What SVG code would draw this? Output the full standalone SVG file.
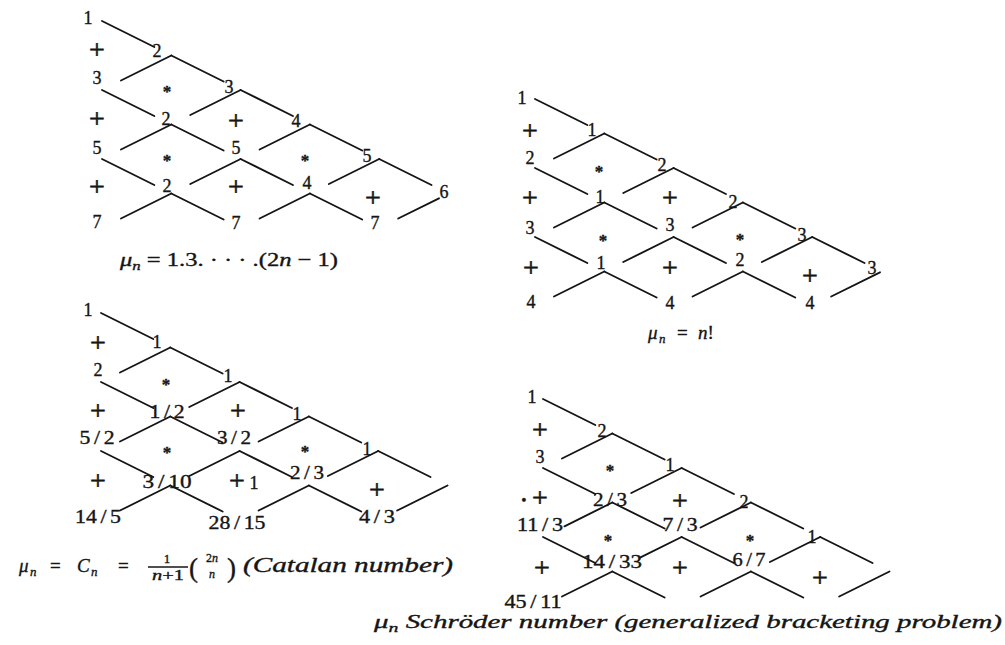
<svg xmlns="http://www.w3.org/2000/svg" width="1005" height="645" viewBox="0 0 1005 645">
<style>
text{font-family:"Liberation Serif","DejaVu Serif",serif;fill:#151515;stroke:#151515;stroke-width:0.35}
.d{font-size:18px;text-anchor:middle}
.p{font-size:28px;text-anchor:middle;stroke-width:0.6}
.s{font-size:17px;font-weight:bold;text-anchor:middle}
.f{font-size:19px}
.i{font-style:italic}
.sub{font-size:13px;font-style:italic}
#connectors line{stroke:#151515;stroke-width:1.9;stroke-linecap:round}
</style>
<rect width="1005" height="645" fill="#fff"/>
<g id="connectors">
<g id="conn-A" transform="translate(102,21)">
<line x1="0" y1="0" x2="52.3" y2="26"/><line x1="0" y1="69" x2="52.3" y2="95"/><line x1="0" y1="138" x2="52.3" y2="164"/>
<line x1="69.3" y1="34.5" x2="121.6" y2="60.5"/><line x1="69.3" y1="103.5" x2="121.6" y2="129.5"/><line x1="69.3" y1="172.5" x2="121.6" y2="198.5"/>
<line x1="138.6" y1="69" x2="190.9" y2="95"/><line x1="138.6" y1="138" x2="190.9" y2="164"/>
<line x1="207.9" y1="103.5" x2="260.2" y2="129.5"/><line x1="207.9" y1="172.5" x2="260.2" y2="198.5"/>
<line x1="277.2" y1="138" x2="329.5" y2="164"/>
<line x1="19" y1="59.5" x2="69.3" y2="34.5"/><line x1="19" y1="128.5" x2="69.3" y2="103.5"/><line x1="19" y1="197.5" x2="69.3" y2="172.5"/>
<line x1="88.3" y1="94" x2="138.6" y2="69"/><line x1="88.3" y1="163" x2="138.6" y2="138"/>
<line x1="157.6" y1="128.5" x2="207.9" y2="103.5"/><line x1="157.6" y1="197.5" x2="207.9" y2="172.5"/>
<line x1="226.9" y1="163" x2="277.2" y2="138"/><line x1="296.2" y1="197.5" x2="337" y2="177.3"/>
</g>
<g id="conn-B" transform="translate(535,99)">
<line x1="0" y1="0" x2="52.3" y2="26"/><line x1="0" y1="69" x2="52.3" y2="95"/><line x1="0" y1="138" x2="52.3" y2="164"/>
<line x1="69.3" y1="34.5" x2="121.6" y2="60.5"/><line x1="69.3" y1="103.5" x2="121.6" y2="129.5"/><line x1="69.3" y1="172.5" x2="121.6" y2="198.5"/>
<line x1="138.6" y1="69" x2="190.9" y2="95"/><line x1="138.6" y1="138" x2="190.9" y2="164"/>
<line x1="207.9" y1="103.5" x2="260.2" y2="129.5"/><line x1="207.9" y1="172.5" x2="260.2" y2="198.5"/>
<line x1="277.2" y1="138" x2="329.5" y2="164"/>
<line x1="19" y1="59.5" x2="69.3" y2="34.5"/><line x1="19" y1="128.5" x2="69.3" y2="103.5"/><line x1="19" y1="197.5" x2="69.3" y2="172.5"/>
<line x1="88.3" y1="94" x2="138.6" y2="69"/><line x1="88.3" y1="163" x2="138.6" y2="138"/>
<line x1="157.6" y1="128.5" x2="207.9" y2="103.5"/><line x1="157.6" y1="197.5" x2="207.9" y2="172.5"/>
<line x1="226.9" y1="163" x2="277.2" y2="138"/><line x1="296.2" y1="197.5" x2="345" y2="173.3"/>
</g>
<g id="conn-C" transform="translate(101,313)">
<line x1="0" y1="0" x2="52.3" y2="26"/><line x1="0" y1="69" x2="52.3" y2="95"/><line x1="0" y1="138" x2="52.3" y2="164"/>
<line x1="69.3" y1="34.5" x2="121.6" y2="60.5"/><line x1="69.3" y1="103.5" x2="121.6" y2="129.5"/><line x1="69.3" y1="172.5" x2="121.6" y2="198.5"/>
<line x1="138.6" y1="69" x2="190.9" y2="95"/><line x1="138.6" y1="138" x2="190.9" y2="164"/>
<line x1="207.9" y1="103.5" x2="260.2" y2="129.5"/><line x1="207.9" y1="172.5" x2="260.2" y2="198.5"/>
<line x1="277.2" y1="138" x2="329.5" y2="164"/>
<line x1="19" y1="59.5" x2="69.3" y2="34.5"/><line x1="19" y1="128.5" x2="69.3" y2="103.5"/><line x1="19" y1="197.5" x2="69.3" y2="172.5"/>
<line x1="88.3" y1="94" x2="138.6" y2="69"/><line x1="88.3" y1="163" x2="138.6" y2="138"/>
<line x1="157.6" y1="128.5" x2="207.9" y2="103.5"/><line x1="157.6" y1="197.5" x2="207.9" y2="172.5"/>
<line x1="226.9" y1="163" x2="277.2" y2="138"/><line x1="296.2" y1="197.5" x2="346.5" y2="172.5"/>
</g>
<g id="conn-D" transform="translate(543,399)">
<line x1="0" y1="0" x2="52.3" y2="26"/><line x1="0" y1="69" x2="52.3" y2="95"/><line x1="0" y1="138" x2="52.3" y2="164"/>
<line x1="69.3" y1="34.5" x2="121.6" y2="60.5"/><line x1="69.3" y1="103.5" x2="121.6" y2="129.5"/><line x1="69.3" y1="172.5" x2="121.6" y2="198.5"/>
<line x1="138.6" y1="69" x2="190.9" y2="95"/><line x1="138.6" y1="138" x2="190.9" y2="164"/>
<line x1="207.9" y1="103.5" x2="260.2" y2="129.5"/><line x1="207.9" y1="172.5" x2="260.2" y2="198.5"/>
<line x1="277.2" y1="138" x2="329.5" y2="164"/>
<line x1="19" y1="59.5" x2="69.3" y2="34.5"/><line x1="21.5" y1="127.3" x2="69.3" y2="103.5"/><line x1="19" y1="197.5" x2="69.3" y2="172.5"/>
<line x1="88.3" y1="94" x2="138.6" y2="69"/><line x1="97" y1="158.6" x2="138.6" y2="138"/>
<line x1="157.6" y1="128.5" x2="207.9" y2="103.5"/><line x1="157.6" y1="197.5" x2="207.9" y2="172.5"/>
<line x1="226.9" y1="163" x2="277.2" y2="138"/><line x1="296.2" y1="197.5" x2="346.5" y2="172.5"/>
</g>
</g>

<g id="diagram-A">
<g id="A00"><text class="d" x="88" y="24">1</text></g>
<g id="A11"><text class="d" x="157" y="57">2</text></g>
<g id="A22"><text class="d" x="229" y="93">3</text></g>
<g id="A33"><text class="d" x="296" y="127">4</text></g>
<g id="A44"><text class="d" x="367" y="162">5</text></g>
<g id="A55"><text class="d" x="444" y="198">6</text></g>
<g id="A02"><text class="d" x="97" y="84">3</text></g>
<g id="A13"><text class="d" x="166" y="125">2</text></g>
<g id="A24"><text class="d" x="236" y="154">5</text></g>
<g id="A35"><text class="d" x="307" y="189">4</text></g>
<g id="A04"><text class="d" x="97" y="154">5</text></g>
<g id="A15"><text class="d" x="167" y="192">2</text></g>
<g id="A06"><text class="d" x="97" y="228">7</text></g>
<g id="A26"><text class="d" x="236" y="229">7</text></g>
<g id="A46"><text class="d" x="375" y="229">7</text></g>
<g id="A01"><text class="p" x="97" y="59">+</text></g>
<g id="A03"><text class="p" x="97" y="128">+</text></g>
<g id="A05"><text class="p" x="97" y="196">+</text></g>
<g id="A12"><text class="s" x="167" y="97">*</text></g>
<g id="A14"><text class="s" x="167" y="166">*</text></g>
<g id="A23"><text class="p" x="236" y="130">+</text></g>
<g id="A25"><text class="p" x="236" y="196">+</text></g>
<g id="A34"><text class="s" x="305" y="166">*</text></g>
<g id="A45"><text class="p" x="373" y="207">+</text></g>
<g id="A-formula"><text class="f" x="120" y="266" textLength="218" lengthAdjust="spacingAndGlyphs"><tspan class="i">μ</tspan><tspan class="sub" dy="4">n</tspan><tspan dy="-4"> = 1.3. · · · .(2</tspan><tspan class="i">n</tspan><tspan> − 1)</tspan></text></g>
</g>

<g id="diagram-B">
<g id="B00"><text class="d" x="522" y="104">1</text></g>
<g id="B11"><text class="d" x="592" y="136">1</text></g>
<g id="B22"><text class="d" x="662" y="171">2</text></g>
<g id="B33"><text class="d" x="733" y="208">2</text></g>
<g id="B44"><text class="d" x="802" y="241">3</text></g>
<g id="B55"><text class="d" x="872" y="274">3</text></g>
<g id="B02"><text class="d" x="530" y="164">2</text></g>
<g id="B13"><text class="d" x="600" y="203">1</text></g>
<g id="B24"><text class="d" x="670" y="231">3</text></g>
<g id="B35"><text class="d" x="740" y="266">2</text></g>
<g id="B04"><text class="d" x="530" y="234">3</text></g>
<g id="B15"><text class="d" x="601" y="269">1</text></g>
<g id="B06"><text class="d" x="531" y="308">4</text></g>
<g id="B26"><text class="d" x="670" y="309">4</text></g>
<g id="B46"><text class="d" x="810" y="309">4</text></g>
<g id="B01"><text class="p" x="530" y="140">+</text></g>
<g id="B03"><text class="p" x="530" y="207">+</text></g>
<g id="B05"><text class="p" x="531" y="277">+</text></g>
<g id="B12"><text class="s" x="599" y="177">*</text></g>
<g id="B14"><text class="s" x="603" y="246">*</text></g>
<g id="B23"><text class="p" x="670" y="207">+</text></g>
<g id="B25"><text class="p" x="670" y="277">+</text></g>
<g id="B34"><text class="s" x="740" y="245">*</text></g>
<g id="B45"><text class="p" x="810" y="285">+</text></g>
<g id="B-formula"><text class="f" y="339"><tspan class="i" x="648">μ</tspan><tspan class="sub" x="659" dy="4">n</tspan><tspan x="677" dy="-4">=</tspan><tspan class="i" x="698">n</tspan><tspan>!</tspan></text></g>
</g>

<g id="diagram-C">
<g id="C00"><text class="d" x="88" y="316">1</text></g>
<g id="C11"><text class="d" x="157" y="348">1</text></g>
<g id="C22"><text class="d" x="228" y="382">1</text></g>
<g id="C33"><text class="d" x="297" y="420">1</text></g>
<g id="C44"><text class="d" x="367" y="455">1</text></g>
<g id="C02"><text class="d" x="98" y="376">2</text></g>
<g id="C13"><text class="d" x="167" y="418" textLength="35" lengthAdjust="spacingAndGlyphs">1<tspan dx="3">/</tspan><tspan dx="3">2</tspan></text></g>
<g id="C24"><text class="d" x="234" y="444" textLength="34" lengthAdjust="spacingAndGlyphs">3<tspan dx="3">/</tspan><tspan dx="3">2</tspan></text></g>
<g id="C35"><text class="d" x="307" y="479" textLength="34" lengthAdjust="spacingAndGlyphs">2<tspan dx="3">/</tspan><tspan dx="3">3</tspan></text></g>
<g id="C04"><text class="d" x="97" y="444" textLength="35" lengthAdjust="spacingAndGlyphs">5<tspan dx="3">/</tspan><tspan dx="3">2</tspan></text></g>
<g id="C15"><text class="d" x="167" y="488" textLength="49" lengthAdjust="spacingAndGlyphs">3<tspan dx="3">/</tspan><tspan dx="3">10</tspan></text></g>
<g id="C06"><text class="d" x="98" y="523" textLength="46" lengthAdjust="spacingAndGlyphs">14<tspan dx="3">/</tspan><tspan dx="3">5</tspan></text></g>
<g id="C26"><text class="d" x="237" y="529" textLength="57" lengthAdjust="spacingAndGlyphs">28<tspan dx="3">/</tspan><tspan dx="3">15</tspan></text></g>
<g id="C46"><text class="d" x="377" y="523" textLength="36" lengthAdjust="spacingAndGlyphs">4<tspan dx="3">/</tspan><tspan dx="3">3</tspan></text></g>
<g id="C01"><text class="p" x="98" y="352">+</text></g>
<g id="C03"><text class="p" x="98" y="420">+</text></g>
<g id="C05"><text class="p" x="98" y="490">+</text></g>
<g id="C12"><text class="s" x="166" y="390">*</text></g>
<g id="C14"><text class="s" x="167" y="458">*</text></g>
<g id="C23"><text class="p" x="238" y="420">+</text></g>
<g id="C25"><text class="p" x="237" y="490">+</text><text class="d" x="254" y="489">1</text></g>
<g id="C34"><text class="s" x="305" y="457">*</text></g>
<g id="C45"><text class="p" x="377" y="499">+</text></g>
<g id="C-formula">
<text class="f" y="572"><tspan class="i" x="19">μ</tspan><tspan class="sub" x="30" dy="4">n</tspan><tspan dy="-4" x="50">=</tspan><tspan class="i" x="77">C</tspan><tspan class="sub" x="91" dy="4">n</tspan><tspan dy="-4" x="118">=</tspan></text>
<text x="167" y="563" style="font-size:13px;text-anchor:middle">1</text>
<line x1="148" y1="567" x2="188" y2="567" stroke="#151515" stroke-width="1.4"/>
<text x="168" y="580" style="font-size:14px;text-anchor:middle" textLength="32" lengthAdjust="spacingAndGlyphs"><tspan class="i">n</tspan>+1</text>
<text x="189" y="577" style="font-size:27px">(</text>
<text x="212" y="562" style="font-size:12px;text-anchor:middle">2<tspan class="i">n</tspan></text>
<text x="212" y="578" style="font-size:12px;text-anchor:middle" class="i">n</text>
<text x="227" y="577" style="font-size:27px">)</text>
<text class="f i" x="243" y="572" textLength="210" lengthAdjust="spacingAndGlyphs" style="font-size:20px">(Catalan number)</text>
</g>
</g>

<g id="diagram-D">
<g id="D00"><text class="d" x="532" y="403">1</text></g>
<g id="D11"><text class="d" x="602" y="437">2</text></g>
<g id="D22"><text class="d" x="670" y="471">1</text></g>
<g id="D33"><text class="d" x="744" y="508">2</text></g>
<g id="D44"><text class="d" x="812" y="543">1</text></g>
<g id="D02"><text class="d" x="540" y="463">3</text></g>
<g id="D13"><text class="d" x="610" y="506" textLength="34" lengthAdjust="spacingAndGlyphs">2<tspan dx="3">/</tspan><tspan dx="3">3</tspan></text></g>
<g id="D24"><text class="d" x="680" y="531" textLength="35" lengthAdjust="spacingAndGlyphs">7<tspan dx="3">/</tspan><tspan dx="3">3</tspan></text></g>
<g id="D35"><text class="d" x="749" y="566" textLength="33" lengthAdjust="spacingAndGlyphs">6<tspan dx="3">/</tspan><tspan dx="3">7</tspan></text></g>
<g id="D04"><text class="d" x="540" y="531" textLength="46" lengthAdjust="spacingAndGlyphs">11<tspan dx="3">/</tspan><tspan dx="3">3</tspan></text></g>
<g id="D15"><text class="d" x="612" y="568" textLength="60" lengthAdjust="spacingAndGlyphs">14<tspan dx="3">/</tspan><tspan dx="3">33</tspan></text></g>
<g id="D06"><text class="d" x="533" y="608" textLength="57" lengthAdjust="spacingAndGlyphs">45<tspan dx="3">/</tspan><tspan dx="3">11</tspan></text></g>
<g id="D01"><text class="p" x="540" y="439">+</text></g>
<g id="D03"><text x="524" y="505" style="font-size:15px;text-anchor:middle">•</text><text class="p" x="540" y="507">+</text></g>
<g id="D05"><text class="p" x="542" y="577">+</text></g>
<g id="D12"><text class="s" x="610" y="476">*</text></g>
<g id="D14"><text class="s" x="608" y="546">*</text></g>
<g id="D23"><text class="p" x="680" y="510">+</text></g>
<g id="D25"><text class="p" x="680" y="577">+</text></g>
<g id="D34"><text class="s" x="750" y="546">*</text></g>
<g id="D45"><text class="p" x="820" y="587">+</text></g>
<g id="D-formula"><text class="f i" x="374" y="628" textLength="628" lengthAdjust="spacingAndGlyphs" style="font-size:19px">μ<tspan class="sub" dy="4">n</tspan><tspan dy="-4"> Schröder number (generalized bracketing problem)</tspan></text></g>
</g>
</svg>
